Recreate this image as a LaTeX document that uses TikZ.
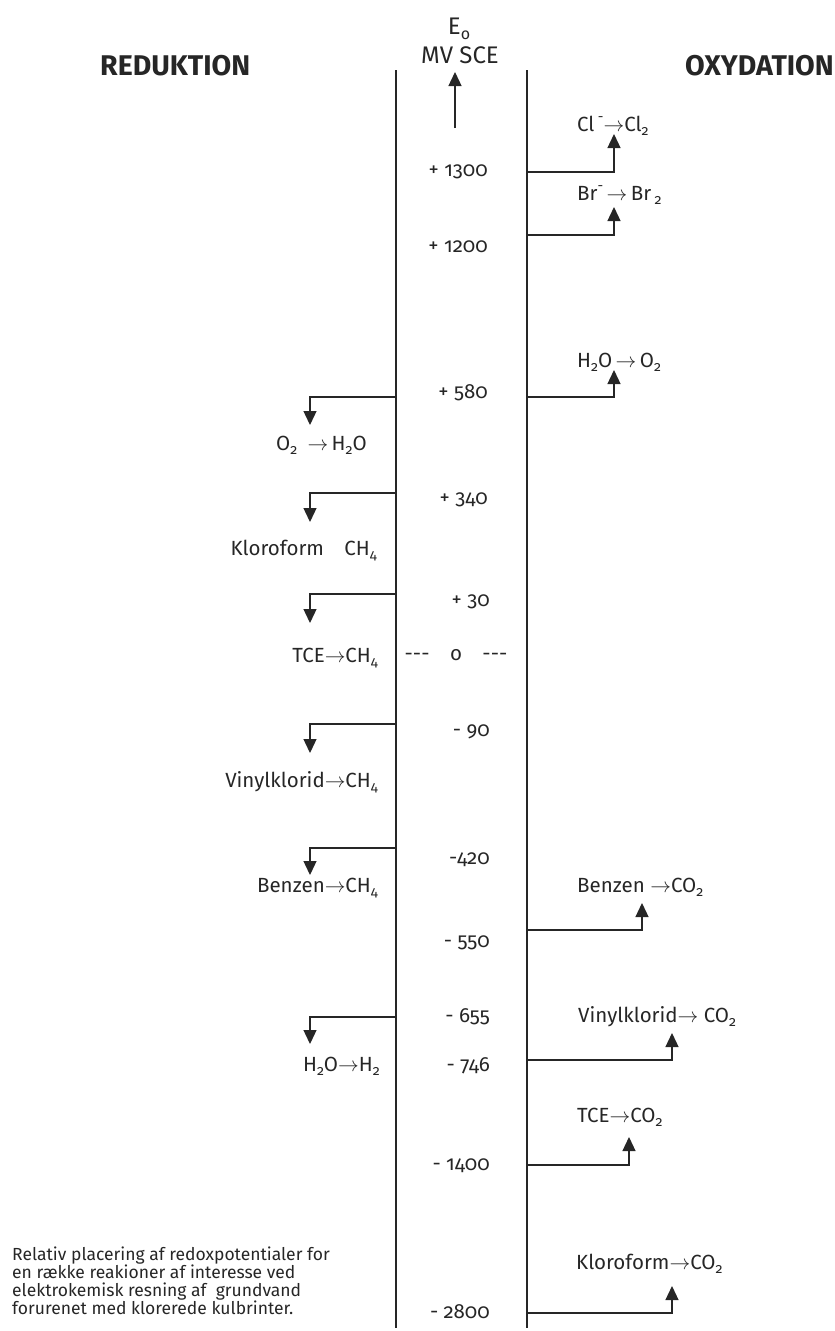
\documentclass[tikz,border=0pt]{standalone}
\usepackage{fontspec}
\setmainfont{Fira Sans}[Numbers=OldStyle]
\usetikzlibrary{arrows.meta}
\newcommand\dn[1]{\raisebox{-0.45ex}{\fontsize{14}{14}\selectfont #1}}
\newcommand\up[1]{\raisebox{0.85ex}{\fontsize{14}{14}\selectfont #1}}
\newcommand\ar{\ensuremath{\rightarrow}}
\newcommand\lblfont{\fontsize{20.5}{24}\selectfont}
\definecolor{ink}{gray}{0.15}
\begin{document}
\begin{tikzpicture}[x=1pt,y=-1pt,
  lbl/.style={font=\lblfont, inner sep=0pt, text=ink},
  ttl/.style={font=\fontsize{28.5}{32}\selectfont\bfseries, inner sep=0pt, text=ink},
  ax/.style={line width=1.4pt, draw=ink},
  br/.style={line width=1.3pt, draw=ink, -{Triangle[length=14pt,width=13pt]}},
]
\useasboundingbox (0,0) rectangle (835,1331);
% titles
\node[ttl, anchor=base west] (red) at (100,75) {REDUKTION};
\node[ttl, anchor=base east] (oxy) at (834,75) {OXYDATION};
\node[lbl, font=\fontsize{24}{28}\selectfont, anchor=base] (eo) at (459,34) {E\raisebox{-0.45ex}{\fontsize{16}{16}\selectfont o}};
\node[lbl, font=\fontsize{24}{28}\selectfont, anchor=base] (mv) at (460,63) {MV SCE};
% axes
\coordinate (la0) at (396,70); \coordinate (la1) at (396,1328);
\coordinate (ra0) at (527,70); \coordinate (ra1) at (527,1328);
\draw[ax] (la0) -- (la1);
\draw[ax] (ra0) -- (ra1);
\coordinate (ua0) at (455,128); \coordinate (ua1) at (455,72);
\draw[br] (ua0) -- (ua1);
% center values
\node[lbl, anchor=base east] (v1300) at (488,176) {+ 1300};
\node[lbl, anchor=base east] (v1200) at (488,252) {+ 1200};
\node[lbl, anchor=base east] (v580) at (488,398) {+ 580};
\node[lbl, anchor=base east] (v340) at (488,504) {+ 340};
\node[lbl, anchor=base east] (v30) at (490,606) {+ 30};
\node[lbl, anchor=base] (v0) at (456,660) {-{}-{}-\quad o\quad -{}-{}-};
\node[lbl, anchor=base east] (v90) at (490,736) {- 90};
\node[lbl, anchor=base east] (v420) at (490,864) {-420};
\node[lbl, anchor=base east] (v550) at (490,947) {- 550};
\node[lbl, anchor=base east] (v655) at (490,1022) {- 655};
\node[lbl, anchor=base east] (v746) at (490,1071) {- 746};
\node[lbl, anchor=base east] (v1400) at (490,1170) {- 1400};
\node[lbl, anchor=base east] (v2800) at (490,1318) {- 2800};
% right (oxidation) labels
\node[lbl, anchor=base west] (ocl) at (577,131) {Cl\,\up{-}\ar Cl\dn{2}};
\node[lbl, anchor=base west] (obr) at (577,200) {Br\up{-}\,\ar\,Br\,\dn{2}};
\node[lbl, anchor=base west] (oh2o) at (577,367) {H\dn{2}O\,\ar\,O\dn{2}};
\node[lbl, anchor=base west] (oben) at (577,892) {Benzen \ar CO\dn{2}};
\node[lbl, anchor=base west] (ovin) at (578,1022) {Vinylklorid\ar\ CO\dn{2}};
\node[lbl, anchor=base west] (otce) at (577,1122) {TCE\ar CO\dn{2}};
\node[lbl, anchor=base west] (oklo) at (576,1269) {Kloroform\ar CO\dn{2}};
% left (reduction) labels
\node[lbl, anchor=base east] (ro2) at (367,450) {O\dn{2}\enspace\ar\,H\dn{2}O};
\node[lbl, anchor=base east] (rklo) at (377,555) {Kloroform\quad CH\dn{4}};
\node[lbl, anchor=base east] (rtce) at (378,662) {TCE\ar CH\dn{4}};
\node[lbl, anchor=base east] (rvin) at (378,787) {Vinylklorid\ar CH\dn{4}};
\node[lbl, anchor=base east] (rben) at (378,892) {Benzen\ar CH\dn{4}};
\node[lbl, anchor=base east] (rh2o) at (380,1071) {H\dn{2}O\ar H\dn{2}};
% right branches
\foreach \n/\y/\x/\t in {cl/172/614/134, br/235/614/207, ho/397/614/370, be/930/642/903, vi/1060/672/1033, tc/1165/629/1137, kl/1313/672/1286}{
  \coordinate (rb\n) at (527,\y);
  \coordinate (rt\n) at (\x,\t);
  \draw[br] (rb\n) -| (rt\n);
}
% left branches
\foreach \n/\y/\t in {a/397/425, b/493/522, c/594/623, d/724/753, e/848/875, f/1017/1044}{
  \coordinate (lb\n) at (396,\y);
  \coordinate (lt\n) at (310,\t);
  \draw[br] (lb\n) -| (lt\n);
}
% caption (base anchor = baseline of last line)
\node[inner sep=0pt, anchor=base west, align=left, text=ink,
  font=\fontsize{17.5}{17.7}\selectfont] (cap) at (12,1314)
  {Relativ placering af redoxpotentialer for\\
   en række reakioner af interesse ved\\
   elektrokemisk resning af\ \ grundvand\\
   forurenet med klorerede kulbrinter.};
\end{tikzpicture}
\end{document}
